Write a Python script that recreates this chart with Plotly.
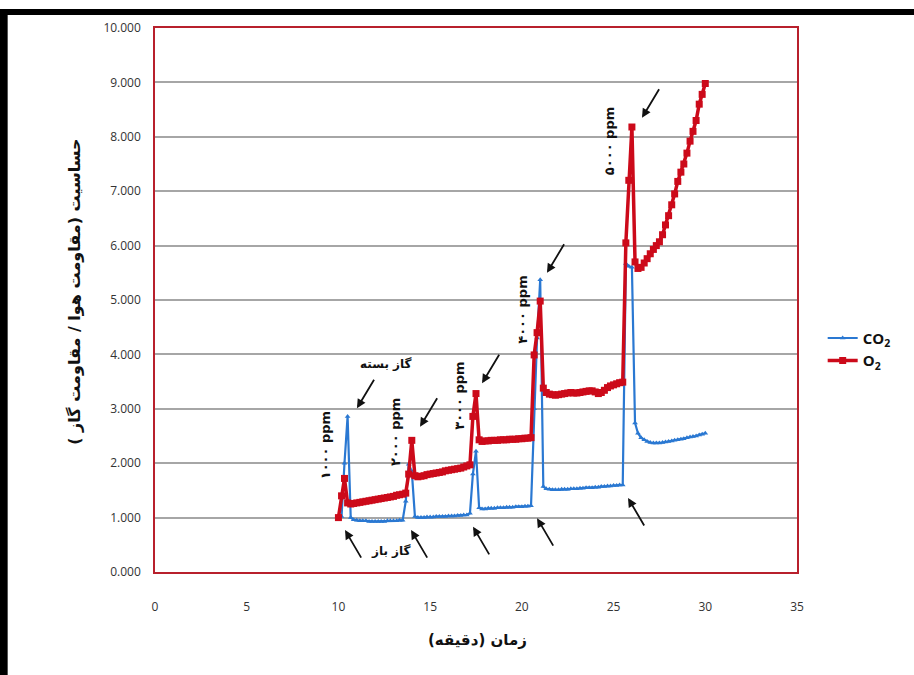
import plotly.graph_objects as go

# time axis (minutes), 10 s sampling
time_min = [10.0, 10.17, 10.33, 10.5, 10.67, 10.83, 11.0, 11.17, 11.33, 11.5, 11.67, 11.83,
            12.0, 12.17, 12.33, 12.5, 12.67, 12.83, 13.0, 13.17, 13.33, 13.5, 13.67, 13.83,
            14.0, 14.17, 14.33, 14.5, 14.67, 14.83, 15.0, 15.17, 15.33, 15.5, 15.67, 15.83,
            16.0, 16.17, 16.33, 16.5, 16.67, 16.83, 17.0, 17.17, 17.33, 17.5, 17.67, 17.83,
            18.0, 18.17, 18.33, 18.5, 18.67, 18.83, 19.0, 19.17, 19.33, 19.5, 19.67, 19.83,
            20.0, 20.17, 20.33, 20.5, 20.67, 20.83, 21.0, 21.17, 21.33, 21.5, 21.67, 21.83,
            22.0, 22.17, 22.33, 22.5, 22.67, 22.83, 23.0, 23.17, 23.33, 23.5, 23.67, 23.83,
            24.0, 24.17, 24.33, 24.5, 24.67, 24.83, 25.0, 25.17, 25.33, 25.5, 25.67, 25.83,
            26.0, 26.17, 26.33, 26.5, 26.67, 26.83, 27.0, 27.17, 27.33, 27.5, 27.67, 27.83,
            28.0, 28.17, 28.33, 28.5, 28.67, 28.83, 29.0, 29.17, 29.33, 29.5, 29.67, 29.83,
            30.0]

co2_values = [1.0, 1.02, 2.0, 2.86,
              1.0, 0.96, 0.95, 0.94, 0.94, 0.94, 0.93, 0.93, 0.93, 0.93, 0.93, 0.93, 0.94, 0.94, 0.94, 0.94, 0.95, 0.95, 1.3,
              1.98, 1.85, 1.02,
              1.0, 1.0, 1.0, 1.01, 1.01, 1.01, 1.02, 1.02, 1.02, 1.02, 1.03, 1.03, 1.03, 1.04, 1.04, 1.05, 1.05,
              1.08, 1.8, 2.22, 1.18,
              1.16, 1.16, 1.17, 1.17, 1.17, 1.18, 1.18, 1.18, 1.19, 1.19, 1.19, 1.2, 1.2, 1.2, 1.21, 1.21, 1.22,
              3.0, 4.3, 5.37,
              1.57, 1.53, 1.52, 1.51, 1.51, 1.51, 1.52, 1.52, 1.52, 1.53, 1.53, 1.53, 1.54, 1.54, 1.55, 1.55,
              1.55, 1.56, 1.56, 1.57, 1.57, 1.58, 1.58, 1.59, 1.59, 1.6, 1.6,
              5.67, 5.62, 5.6,
              2.74, 2.55, 2.47, 2.43, 2.4, 2.38, 2.37, 2.37, 2.37, 2.38, 2.39, 2.4, 2.41, 2.42, 2.43, 2.44,
              2.45, 2.47, 2.48, 2.49, 2.5, 2.52, 2.53, 2.55]

o2_values = [1.0, 1.4, 1.72, 1.27,
             1.25, 1.26, 1.27, 1.28, 1.29, 1.3, 1.31, 1.32, 1.33, 1.34, 1.35, 1.36, 1.37, 1.38, 1.39, 1.41, 1.42, 1.43, 1.45,
             1.8, 2.42, 1.77,
             1.75, 1.76, 1.77, 1.79, 1.8, 1.81, 1.82, 1.83, 1.84, 1.86, 1.87, 1.88, 1.89, 1.9, 1.91, 1.93, 1.95,
             1.97, 2.86, 3.28, 2.43,
             2.4, 2.41, 2.41, 2.42, 2.42, 2.42, 2.43, 2.43, 2.43, 2.44, 2.44, 2.44, 2.45, 2.45, 2.46, 2.46, 2.47,
             3.99, 4.4, 4.98,
             3.38, 3.3, 3.27, 3.26, 3.25, 3.26, 3.27, 3.28, 3.29, 3.3, 3.29, 3.29, 3.3, 3.31, 3.32, 3.33,
             3.33, 3.31, 3.28, 3.3, 3.34, 3.39, 3.42, 3.44, 3.46, 3.48, 3.49,
             6.05, 7.2, 8.18,
             5.7, 5.58, 5.6, 5.68, 5.76, 5.85, 5.93, 6.0, 6.07, 6.2, 6.38, 6.55, 6.75, 6.95, 7.18, 7.35,
             7.5, 7.7, 7.92, 8.1, 8.3, 8.6, 8.78, 8.98]

x_ticks = [0, 5, 10, 15, 20, 25, 30, 35]
y_ticks = [0, 1, 2, 3, 4, 5, 6, 7, 8, 9, 10]

concentration_labels = ["۱۰۰۰ ppm", "۲۰۰۰ ppm", "۳۰۰۰ ppm", "۴۰۰۰ ppm", "۵۰۰۰ ppm"]
label_x = [9.27, 13.08, 16.63, 20.06, 24.75]
label_y = [2.33, 2.57, 3.24, 4.82, 7.92]

# arrows: head position (data) and tail offset (px)
close_arrow_x = [11.01, 14.45, 17.83, 21.37, 26.55]
close_arrow_y = [3.01, 2.67, 3.47, 5.50, 8.35]
open_arrow_x = [10.36, 13.96, 17.34, 20.83, 25.79]
open_arrow_y = [0.77, 0.77, 0.83, 0.99, 1.36]

fig = go.Figure()
fig.add_trace(go.Scatter(
    x=time_min, y=co2_values, mode="lines+markers", name="<b>CO<sub>2</sub></b>",
    line=dict(color="#2A78D2", width=2.2),
    marker=dict(symbol="triangle-up", size=5, color="#2A78D2"),
))
fig.add_trace(go.Scatter(
    x=time_min, y=o2_values, mode="lines+markers", name="<b>O<sub>2</sub></b>",
    line=dict(color="#CC0A1A", width=3.5),
    marker=dict(symbol="square", size=7, color="#CC0A1A"),
))

annotations = []
txt_font = dict(family="DejaVu Sans", size=13, color="#111111")
for lbl, lx, ly in zip(concentration_labels, label_x, label_y):
    annotations.append(dict(x=lx, y=ly, xref="x", yref="y", text="<b>" + lbl + "</b>",
                            showarrow=False, textangle=-90, font=txt_font))
for hx, hy in zip(close_arrow_x, close_arrow_y):
    annotations.append(dict(x=hx, y=hy, xref="x", yref="y", text="", showarrow=True,
                            ax=18, ay=-30, arrowhead=2, arrowsize=1, arrowwidth=1.8,
                            arrowcolor="#111111", standoff=0))
for hx, hy in zip(open_arrow_x, open_arrow_y):
    annotations.append(dict(x=hx, y=hy, xref="x", yref="y", text="", showarrow=True,
                            ax=17, ay=29, arrowhead=2, arrowsize=1, arrowwidth=1.8,
                            arrowcolor="#111111", standoff=0))
annotations.append(dict(x=12.59, y=3.82, xref="x", yref="y", text="<b>گاز بسته</b>",
                        showarrow=False, font=dict(family="DejaVu Sans", size=12, color="#111111")))
annotations.append(dict(x=12.87, y=0.39, xref="x", yref="y", text="<b>گاز باز</b>",
                        showarrow=False, font=dict(family="DejaVu Sans", size=12, color="#111111")))
# axis titles
annotations.append(dict(x=-0.1246, y=0.515, xref="paper", yref="paper",
                        xanchor="center", yanchor="middle",
                        text="<b>حساسیت (مقاومت هوا / مقاومت گاز )</b>", showarrow=False,
                        textangle=-90, font=dict(family="DejaVu Sans", size=16, color="#111111")))
annotations.append(dict(x=0.503, y=-0.125, xref="paper", yref="paper",
                        xanchor="center", yanchor="middle",
                        text="<b>زمان (دقیقه)</b>", showarrow=False,
                        font=dict(family="DejaVu Sans", size=15, color="#111111")))

shapes = [
    dict(type="rect", xref="paper", yref="paper", x0=-0.25, x1=1.2, y0=1.024, y1=1.035,
         fillcolor="black", line=dict(width=0), layer="above"),
    dict(type="rect", xref="paper", yref="paper", x0=-0.25, x1=-0.2295, y0=-0.2, y1=1.035,
         fillcolor="black", line=dict(width=0), layer="above"),
]

fig.update_layout(
    width=914, height=675,
    margin=dict(l=155, r=117, t=28, b=103),
    paper_bgcolor="white", plot_bgcolor="white",
    showlegend=True,
    legend=dict(x=1.04, y=0.46, xanchor="left", yanchor="top",
                font=dict(family="Open Sans", size=15, color="#111111"),
                bgcolor="rgba(0,0,0,0)"),
    annotations=annotations,
    shapes=shapes,
    xaxis=dict(range=[0, 35], tickvals=x_ticks, showgrid=False, zeroline=False,
               showline=True, linecolor="#B8202C", linewidth=1.5, mirror=True,
               ticks="", ticklabelstandoff=23,
               tickfont=dict(family="Open Sans", size=12, color="#333333")),
    yaxis=dict(range=[0, 10], tickvals=y_ticks, tickformat=".3f", showgrid=True,
               gridcolor="#A6A6A6", gridwidth=1.5, zeroline=False,
               showline=True, linecolor="#B8202C", linewidth=1.5, mirror=True,
               ticks="", ticklabelstandoff=10,
               tickfont=dict(family="Open Sans", size=12, color="#333333")),
)

fig.write_html("out.html", config={"displayModeBar": False},
               post_script="document.body.style.margin='0';document.body.style.overflow='hidden';")
